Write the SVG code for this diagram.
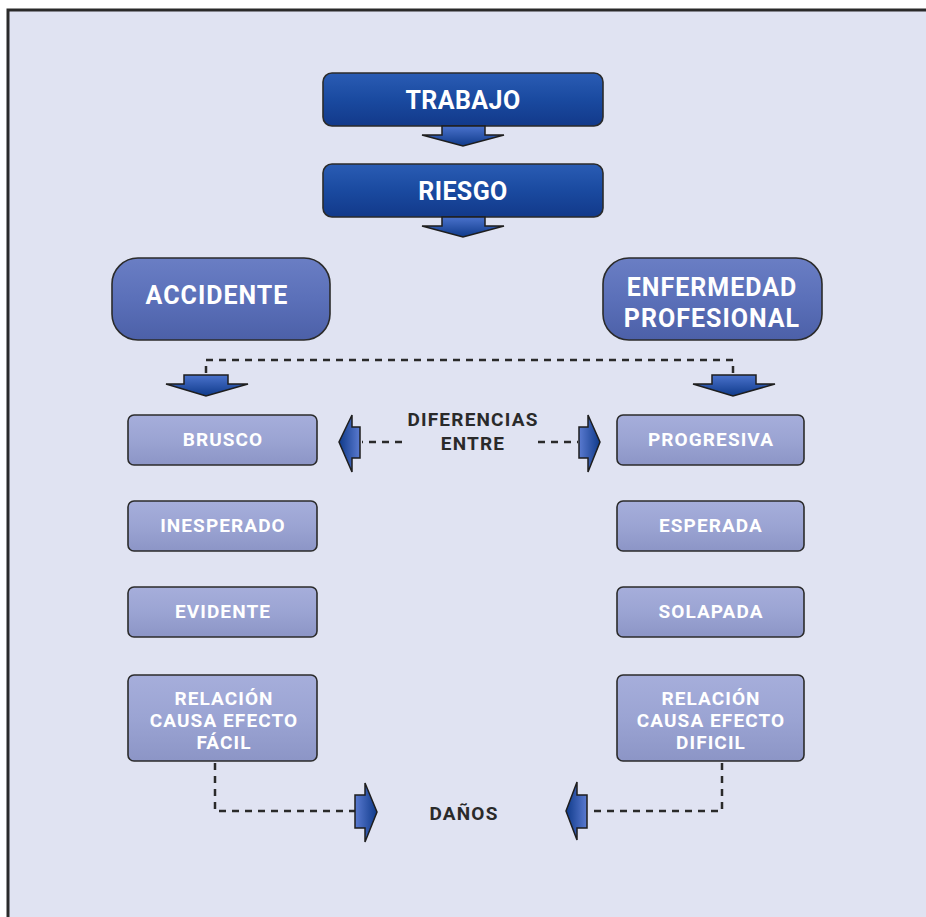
<svg xmlns="http://www.w3.org/2000/svg" width="926" height="917" viewBox="0 0 926 917">
<defs>
<linearGradient id="gDark" x1="0" y1="0" x2="0" y2="1">
<stop offset="0" stop-color="#2a5cb4"/><stop offset="0.5" stop-color="#1a4aa0"/><stop offset="1" stop-color="#12398a"/>
</linearGradient>
<linearGradient id="gMid" x1="0" y1="0" x2="0" y2="1">
<stop offset="0" stop-color="#6a7ec4"/><stop offset="0.5" stop-color="#5b70b9"/><stop offset="1" stop-color="#4c60a8"/>
</linearGradient>
<linearGradient id="gLight" x1="0" y1="0" x2="0" y2="1">
<stop offset="0" stop-color="#a6aedb"/><stop offset="0.5" stop-color="#9ba4d3"/><stop offset="1" stop-color="#8c95c6"/>
</linearGradient>
<linearGradient id="gArrV" x1="0" y1="0" x2="0" y2="1">
<stop offset="0" stop-color="#4a72cc"/><stop offset="1" stop-color="#0f3a8a"/>
</linearGradient>
<linearGradient id="gArrR" x1="0" y1="0" x2="1" y2="0">
<stop offset="0" stop-color="#5a7ad0"/><stop offset="1" stop-color="#0f3a8a"/>
</linearGradient>
<linearGradient id="gArrL" x1="1" y1="0" x2="0" y2="0">
<stop offset="0" stop-color="#5a7ad0"/><stop offset="1" stop-color="#0f3a8a"/>
</linearGradient>
</defs>
<style>
.t{font-family:Roboto,"Liberation Sans",sans-serif;font-weight:bold;fill:#fff;text-anchor:middle}
.s{letter-spacing:1.1px;font-size:19px}
.m{letter-spacing:1.0px;font-size:25px}
.d{font-family:Roboto,"Liberation Sans",sans-serif;font-weight:bold;fill:#2a2a2a;text-anchor:middle;font-size:19px;letter-spacing:1.2px}
.bx{stroke:#2b2b2b;stroke-width:1.6}
.dark{fill:url(#gDark)}
.mid{fill:url(#gMid)}
.light{fill:url(#gLight)}
.dash{fill:none;stroke:#2a2a2a;stroke-width:2.5;stroke-dasharray:7 6}
.arr{stroke:#1e1e1e;stroke-width:1.5;stroke-linejoin:miter}
</style>
<rect x="0" y="0" width="926" height="917" fill="#ffffff"/>
<rect x="8" y="10" width="930" height="920" fill="#e0e3f2" stroke="#2a2a2a" stroke-width="3"/>

<g id="trabajo">
<rect class="bx dark" x="323" y="73" width="280" height="53" rx="9"/>
<polygon class="arr" fill="url(#gArrV)" points="442,126 485,126 485,135 504,135 463,146 422,135 442,135"/>
<text class="t" x="463" y="109" font-size="25" letter-spacing="0.4">TRABAJO</text>
</g>
<g id="riesgo">
<rect class="bx dark" x="323" y="164" width="280" height="53" rx="9"/>
<polygon class="arr" fill="url(#gArrV)" points="442,217 485,217 485,226 504,226 463,237 422,226 442,226"/>
<text class="t" x="463" y="200" font-size="25" letter-spacing="0.4">RIESGO</text>
</g>
<g id="accidente">
<rect class="bx mid" x="112" y="258" width="218" height="82" rx="26"/>
<text class="t m" x="217" y="304">ACCIDENTE</text>
</g>
<g id="enfermedad">
<rect class="bx mid" x="603" y="258" width="219" height="82" rx="26"/>
<text class="t m" x="712" y="296">ENFERMEDAD</text>
<text class="t m" x="712" y="327">PROFESIONAL</text>
</g>

<g id="connectors">
<polyline class="dash" points="206,373 206,360 733,360 733,373"/>
<polygon class="arr" fill="url(#gArrV)" points="184,375 228,375 228,384 248,384 206,396 166,384 184,384"/>
<polygon class="arr" fill="url(#gArrV)" points="712,375 756,375 756,384 775,384 733,396 693,384 712,384"/>
<line class="dash" x1="402" y1="442" x2="362" y2="442"/>
<polygon class="arr" fill="url(#gArrL)" points="360,427 360,458 352,458 352,472 339,442 352,415 352,427"/>
<line class="dash" x1="538" y1="442" x2="578" y2="442"/>
<polygon class="arr" fill="url(#gArrR)" points="579,427 579,458 588,458 588,472 600,442 588,415 588,427"/>
<polyline class="dash" points="215,763 215,811 356,811"/>
<polygon class="arr" fill="url(#gArrR)" points="355,795 355,828 365,828 365,842 377,812 365,783 365,795"/>
<polyline class="dash" points="722,763 722,811 590,811"/>
<polygon class="arr" fill="url(#gArrL)" points="587,795 587,828 577,828 577,840 566,811 577,782 577,795"/>
</g>

<g id="diferencias">
<text class="d" x="473" y="426">DIFERENCIAS</text>
<text class="d" x="473" y="450">ENTRE</text>
</g>
<g id="danos">
<text class="d" x="464" y="820">DAÑOS</text>
</g>

<g id="brusco">
<rect class="bx light" x="128" y="415" width="189" height="50" rx="6"/>
<text class="t s" x="223" y="446">BRUSCO</text>
</g>
<g id="inesperado">
<rect class="bx light" x="128" y="501" width="189" height="50" rx="6"/>
<text class="t s" x="223" y="532">INESPERADO</text>
</g>
<g id="evidente">
<rect class="bx light" x="128" y="587" width="189" height="50" rx="6"/>
<text class="t s" x="223" y="618">EVIDENTE</text>
</g>
<g id="relacion-facil">
<rect class="bx light" x="128" y="675" width="189" height="86" rx="6"/>
<text class="t s" x="224" y="705">RELACIÓN</text>
<text class="t s" x="224" y="727">CAUSA EFECTO</text>
<text class="t s" x="224" y="749">FÁCIL</text>
</g>
<g id="progresiva">
<rect class="bx light" x="617" y="415" width="187" height="50" rx="6"/>
<text class="t s" x="711" y="446">PROGRESIVA</text>
</g>
<g id="esperada">
<rect class="bx light" x="617" y="501" width="187" height="50" rx="6"/>
<text class="t s" x="711" y="532">ESPERADA</text>
</g>
<g id="solapada">
<rect class="bx light" x="617" y="587" width="187" height="50" rx="6"/>
<text class="t s" x="711" y="618">SOLAPADA</text>
</g>
<g id="relacion-dificil">
<rect class="bx light" x="617" y="675" width="187" height="86" rx="6"/>
<text class="t s" x="711" y="705">RELACIÓN</text>
<text class="t s" x="711" y="727">CAUSA EFECTO</text>
<text class="t s" x="711" y="749">DIFICIL</text>
</g>
</svg>
